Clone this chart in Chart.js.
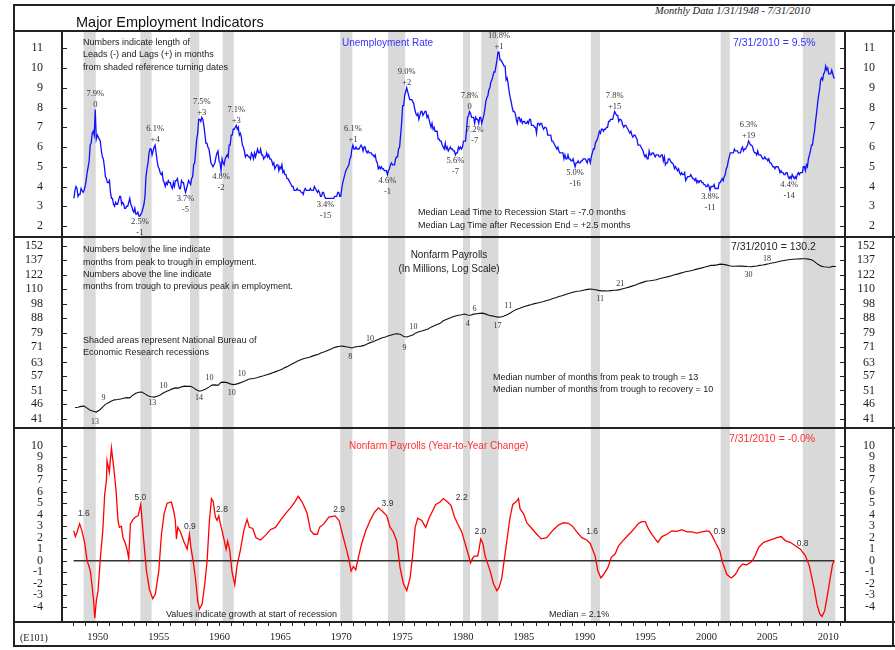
<!DOCTYPE html>
<html lang="en">
<head>
<meta charset="utf-8">
<title>Major Employment Indicators</title>
<script src="https://cdn.jsdelivr.net/npm/chart.js@4.4.1/dist/chart.umd.min.js"></script>
<style>
  html, body { margin: 0; background: #fff; }
  #page { position: relative; width: 895px; height: 650px; overflow: hidden; }
  #page canvas { position: absolute; left: 0; }
  .rule { position: absolute; background: #222; }
  .t { position: absolute; white-space: nowrap; color: #222;
       font: 9px/12px "Liberation Sans", Arial, sans-serif; }
  .big { font-size: 10.5px; }
  .blue { color: #3535ff; }
  .red { color: #ff3030; }
</style>
</head>
<body>
<div id="page">
  <canvas id="urChart" width="895" height="206" style="top:31px"></canvas>
  <canvas id="payChart" width="895" height="191" style="top:237px"></canvas>
  <canvas id="yoyChart" width="895" height="222" style="top:428px"></canvas>

  <!-- frame and panel separators -->
  <div class="rule" style="left:13px;top:4px;width:882px;height:2px"></div>
  <div class="rule" style="left:13px;top:645px;width:882px;height:2px"></div>
  <div class="rule" style="left:13px;top:4px;width:2px;height:643px"></div>
  <div class="rule" style="left:892px;top:4px;width:2px;height:643px"></div>
  <div class="rule" style="left:13px;top:30px;width:882px;height:2px"></div>
  <div class="rule" style="left:13px;top:236px;width:882px;height:2px"></div>
  <div class="rule" style="left:13px;top:427px;width:882px;height:2px"></div>
  <div class="rule" style="left:13px;top:621px;width:882px;height:2px"></div>
  <div class="rule" style="left:61px;top:31px;width:2px;height:591px"></div>
  <div class="rule" style="left:844px;top:31px;width:2px;height:591px"></div>

  <!-- heading -->
  <div class="t" style="left:76px;top:13px;font-size:14.5px;line-height:18px;color:#111">Major Employment Indicators</div>
  <div class="t" style="left:655px;top:5px;font:italic 10.5px/12px 'Liberation Serif', serif">Monthly Data 1/31/1948 - 7/31/2010</div>

  <!-- unemployment panel notes -->
  <div class="t" style="left:83px;top:36px">Numbers indicate length of</div>
  <div class="t" style="left:83px;top:48px">Leads (-) and Lags (+) in months</div>
  <div class="t" style="left:83px;top:61px">from shaded reference turning dates</div>
  <div class="t blue" style="left:342px;top:37px;font-size:10px">Unemployment Rate</div>
  <div class="t blue big" style="left:733px;top:36px">7/31/2010 = 9.5%</div>
  <div class="t" style="left:418px;top:206px">Median Lead Time to Recession Start = -7.0 months</div>
  <div class="t" style="left:418px;top:219px">Median Lag Time after Recession End = +2.5 months</div>

  <!-- payroll panel notes -->
  <div class="t" style="left:83px;top:243px">Numbers below the line indicate</div>
  <div class="t" style="left:83px;top:256px">months from peak to trough in employment.</div>
  <div class="t" style="left:83px;top:268px">Numbers above the line indicate</div>
  <div class="t" style="left:83px;top:280px">months from trough to previous peak in employment.</div>
  <div class="t" style="left:349px;top:249px;width:200px;text-align:center;font-size:10px">Nonfarm Payrolls</div>
  <div class="t" style="left:349px;top:263px;width:200px;text-align:center;font-size:10px">(In Millions, Log Scale)</div>
  <div class="t" style="left:83px;top:334px">Shaded areas represent National Bureau of</div>
  <div class="t" style="left:83px;top:346px">Economic Research recessions</div>
  <div class="t big" style="left:731px;top:240px">7/31/2010 = 130.2</div>
  <div class="t" style="left:493px;top:371px">Median number of months from peak to trough = 13</div>
  <div class="t" style="left:493px;top:383px">Median number of months from trough to recovery = 10</div>

  <!-- year-to-year panel notes -->
  <div class="t red" style="left:349px;top:440px;font-size:10px">Nonfarm Payrolls (Year-to-Year Change)</div>
  <div class="t red big" style="left:729px;top:432px">7/31/2010 = -0.0%</div>
  <div class="t" style="left:166px;top:608px">Values indicate growth at start of recession</div>
  <div class="t" style="left:549px;top:608px">Median = 2.1%</div>
  <div class="t" style="left:20px;top:632px;font:10px/12px 'Liberation Serif', serif">(E101)</div>
</div>

<script>
// ---- data ----
const START_YEAR = 1948;

// unemployment rate, monthly Jan 1948 - Jul 2010 (%)
const UNRATE = [
  3.4, 3.8, 4.0, 3.9, 3.5, 3.6, 3.6, 3.9, 3.8, 3.7, 3.8, 4.0,   // 1948
  4.3, 4.7, 5.0, 5.3, 6.1, 6.2, 6.7, 6.8, 6.6, 7.9, 6.4, 6.6,   // 1949
  6.5, 6.4, 6.3, 5.8, 5.5, 5.4, 5.0, 4.5, 4.4, 4.2, 4.2, 4.3,   // 1950
  3.7, 3.4, 3.4, 3.1, 3.0, 3.2, 3.1, 3.1, 3.3, 3.5, 3.5, 3.1,   // 1951
  3.2, 3.1, 2.9, 2.9, 3.0, 3.0, 3.2, 3.4, 3.1, 3.0, 2.8, 2.7,   // 1952
  2.9, 2.6, 2.6, 2.7, 2.5, 2.5, 2.6, 2.7, 2.9, 3.1, 3.5, 4.5,   // 1953
  4.9, 5.2, 5.7, 5.9, 5.9, 5.6, 5.8, 6.0, 6.1, 5.7, 5.3, 5.0,   // 1954
  4.9, 4.7, 4.6, 4.7, 4.3, 4.2, 4.0, 4.2, 4.1, 4.3, 4.2, 4.2,   // 1955
  4.0, 3.9, 4.2, 4.0, 4.3, 4.3, 4.4, 4.1, 3.9, 3.9, 4.3, 4.2,   // 1956
  4.2, 3.9, 3.7, 3.9, 4.1, 4.3, 4.2, 4.1, 4.4, 4.5, 5.1, 5.2,   // 1957
  5.8, 6.4, 6.7, 7.4, 7.4, 7.3, 7.5, 7.4, 7.1, 6.7, 6.2, 6.2,   // 1958
  6.0, 5.9, 5.6, 5.2, 5.1, 5.0, 5.1, 5.2, 5.5, 5.7, 5.8, 5.3,   // 1959
  5.2, 4.8, 5.4, 5.2, 5.1, 5.4, 5.5, 5.6, 5.5, 6.1, 6.1, 6.6,   // 1960
  6.6, 6.9, 6.9, 7.0, 7.1, 6.9, 7.0, 6.6, 6.7, 6.5, 6.1, 6.0,   // 1961
  5.8, 5.5, 5.6, 5.6, 5.5, 5.5, 5.4, 5.7, 5.6, 5.4, 5.7, 5.5,   // 1962
  5.7, 5.9, 5.7, 5.7, 5.9, 5.6, 5.6, 5.4, 5.5, 5.5, 5.7, 5.5,   // 1963
  5.6, 5.4, 5.4, 5.3, 5.1, 5.2, 4.9, 5.0, 5.1, 5.1, 4.8, 5.0,   // 1964
  4.9, 5.1, 4.7, 4.8, 4.6, 4.6, 4.4, 4.4, 4.3, 4.2, 4.1, 4.0,   // 1965
  4.0, 3.8, 3.8, 3.8, 3.9, 3.8, 3.8, 3.8, 3.7, 3.7, 3.6, 3.8,   // 1966
  3.9, 3.8, 3.8, 3.8, 3.8, 3.9, 3.8, 3.8, 3.8, 4.0, 3.9, 3.8,   // 1967
  3.7, 3.8, 3.7, 3.5, 3.5, 3.7, 3.7, 3.5, 3.4, 3.4, 3.4, 3.4,   // 1968
  3.4, 3.4, 3.4, 3.4, 3.4, 3.5, 3.5, 3.5, 3.7, 3.7, 3.5, 3.5,   // 1969
  3.9, 4.2, 4.4, 4.6, 4.8, 4.9, 5.0, 5.1, 5.4, 5.5, 5.9, 6.1,   // 1970
  5.9, 5.9, 6.0, 5.9, 5.9, 5.9, 6.0, 6.1, 6.0, 5.8, 6.0, 6.0,   // 1971
  5.8, 5.7, 5.8, 5.7, 5.7, 5.7, 5.6, 5.6, 5.5, 5.6, 5.3, 5.2,   // 1972
  4.9, 5.0, 4.9, 5.0, 4.9, 4.9, 4.8, 4.8, 4.8, 4.6, 4.8, 4.9,   // 1973
  5.1, 5.2, 5.1, 5.1, 5.1, 5.4, 5.5, 5.5, 5.9, 6.0, 6.6, 7.2,   // 1974
  8.1, 8.1, 8.6, 8.8, 9.0, 8.8, 8.6, 8.4, 8.4, 8.4, 8.3, 8.2,   // 1975
  7.9, 7.7, 7.6, 7.7, 7.4, 7.6, 7.8, 7.8, 7.6, 7.7, 7.8, 7.8,   // 1976
  7.5, 7.6, 7.4, 7.2, 7.0, 7.2, 6.9, 7.0, 6.8, 6.8, 6.8, 6.4,   // 1977
  6.4, 6.3, 6.3, 6.1, 6.0, 5.9, 6.2, 5.9, 6.0, 5.8, 5.9, 6.0,   // 1978
  5.9, 5.9, 5.8, 5.8, 5.6, 5.7, 5.7, 6.0, 5.9, 6.0, 5.9, 6.0,   // 1979
  6.3, 6.3, 6.3, 6.9, 7.5, 7.6, 7.8, 7.7, 7.5, 7.5, 7.5, 7.2,   // 1980
  7.5, 7.4, 7.4, 7.2, 7.5, 7.5, 7.2, 7.4, 7.6, 7.9, 8.3, 8.5,   // 1981
  8.6, 8.9, 9.0, 9.3, 9.4, 9.6, 9.8, 9.8, 10.1, 10.4, 10.8, 10.8, // 1982
  10.4, 10.4, 10.3, 10.2, 10.1, 10.1, 9.4, 9.5, 9.2, 8.8, 8.5, 8.3, // 1983
  8.0, 7.8, 7.8, 7.7, 7.4, 7.2, 7.5, 7.5, 7.3, 7.4, 7.2, 7.3,   // 1984
  7.3, 7.2, 7.2, 7.3, 7.2, 7.4, 7.4, 7.1, 7.1, 7.1, 7.0, 7.0,   // 1985
  6.7, 7.2, 7.2, 7.1, 7.2, 7.2, 7.0, 6.9, 7.0, 7.0, 6.9, 6.6,   // 1986
  6.6, 6.6, 6.6, 6.3, 6.3, 6.2, 6.1, 6.0, 5.9, 6.0, 5.8, 5.7,   // 1987
  5.7, 5.7, 5.7, 5.4, 5.6, 5.4, 5.4, 5.6, 5.4, 5.4, 5.3, 5.3,   // 1988
  5.4, 5.2, 5.0, 5.2, 5.2, 5.3, 5.2, 5.2, 5.3, 5.3, 5.4, 5.4,   // 1989
  5.4, 5.3, 5.2, 5.4, 5.4, 5.2, 5.5, 5.7, 5.9, 5.9, 6.2, 6.3,   // 1990
  6.4, 6.6, 6.8, 6.7, 6.9, 6.9, 6.8, 6.9, 6.9, 7.0, 7.0, 7.3,   // 1991
  7.3, 7.4, 7.4, 7.4, 7.6, 7.8, 7.7, 7.6, 7.6, 7.3, 7.4, 7.4,   // 1992
  7.3, 7.1, 7.0, 7.1, 7.1, 7.0, 6.9, 6.8, 6.7, 6.8, 6.6, 6.5,   // 1993
  6.6, 6.6, 6.5, 6.4, 6.1, 6.1, 6.1, 6.0, 5.9, 5.8, 5.6, 5.5,   // 1994
  5.6, 5.4, 5.4, 5.8, 5.6, 5.6, 5.7, 5.7, 5.6, 5.5, 5.6, 5.6,   // 1995
  5.6, 5.5, 5.5, 5.6, 5.6, 5.3, 5.5, 5.1, 5.2, 5.2, 5.4, 5.4,   // 1996
  5.3, 5.2, 5.2, 5.1, 4.9, 5.0, 4.9, 4.8, 4.9, 4.7, 4.6, 4.7,   // 1997
  4.6, 4.6, 4.7, 4.3, 4.4, 4.5, 4.5, 4.5, 4.6, 4.5, 4.4, 4.4,   // 1998
  4.3, 4.4, 4.2, 4.3, 4.2, 4.3, 4.3, 4.2, 4.2, 4.1, 4.1, 4.0,   // 1999
  4.0, 4.1, 4.0, 3.8, 4.0, 4.0, 4.0, 4.1, 3.9, 3.9, 3.9, 3.9,   // 2000
  4.2, 4.2, 4.3, 4.4, 4.3, 4.5, 4.6, 4.9, 5.0, 5.3, 5.5, 5.7,   // 2001
  5.7, 5.7, 5.7, 5.9, 5.8, 5.8, 5.8, 5.7, 5.7, 5.7, 5.9, 6.0,   // 2002
  5.8, 5.9, 5.9, 6.0, 6.1, 6.3, 6.2, 6.1, 6.1, 6.0, 5.8, 5.7,   // 2003
  5.7, 5.6, 5.8, 5.6, 5.6, 5.6, 5.5, 5.4, 5.4, 5.5, 5.4, 5.4,   // 2004
  5.3, 5.4, 5.2, 5.2, 5.1, 5.0, 5.0, 4.9, 5.0, 5.0, 5.0, 4.9,   // 2005
  4.7, 4.8, 4.7, 4.7, 4.6, 4.6, 4.7, 4.7, 4.5, 4.4, 4.5, 4.4,   // 2006
  4.6, 4.5, 4.4, 4.5, 4.4, 4.6, 4.7, 4.6, 4.7, 4.7, 4.7, 5.0,   // 2007
  5.0, 4.8, 5.1, 5.0, 5.4, 5.6, 5.8, 6.1, 6.1, 6.5, 6.8, 7.3,   // 2008
  7.7, 8.2, 8.6, 8.9, 9.4, 9.5, 9.4, 9.7, 9.8, 10.1, 9.9, 10.0, // 2009
  9.7, 9.7, 9.7, 9.9, 9.7, 9.5, 9.5                           // 2010
];

// nonfarm payrolls, millions, one value per quarter (Feb, May, Aug, Nov)
const PAYROLLS = [
  44.8, 44.9, 45.2, 45.3,   // 1948
  44.6, 43.9, 43.6, 43.3,   // 1949
  43.9, 44.9, 45.9, 46.5,   // 1950
  47.1, 47.5, 47.6, 47.8,   // 1951
  48.1, 48.3, 48.2, 49.2,   // 1952
  49.9, 50.3, 50.4, 49.7,   // 1953
  49.0, 48.6, 48.5, 48.8,   // 1954
  49.3, 50.0, 50.6, 51.1,   // 1955
  51.6, 52.0, 51.9, 52.4,   // 1956
  52.7, 52.6, 52.6, 52.0,   // 1957
  51.2, 50.7, 51.1, 51.6,   // 1958
  52.3, 53.1, 53.2, 53.0,   // 1959
  54.2, 54.3, 54.1, 53.6,   // 1960
  53.3, 53.5, 53.9, 54.4,   // 1961
  54.9, 55.5, 55.7, 55.9,   // 1962
  56.2, 56.7, 57.0, 57.4,   // 1963
  57.8, 58.3, 58.8, 59.3,   // 1964
  59.9, 60.6, 61.2, 62.0,   // 1965
  62.8, 63.6, 64.2, 64.8,   // 1966
  65.2, 65.5, 66.1, 66.6,   // 1967
  67.0, 67.8, 68.3, 69.0,   // 1968
  69.6, 70.4, 70.9, 71.2,   // 1969
  71.3, 71.0, 70.7, 70.3,   // 1970
  70.8, 71.1, 71.3, 71.7,   // 1971
  72.5, 73.2, 73.7, 74.5,   // 1972
  75.3, 76.0, 76.4, 77.1,   // 1973
  77.6, 78.1, 78.3, 77.9,   // 1974
  76.7, 76.4, 77.0, 77.6,   // 1975
  78.8, 79.5, 79.9, 80.5,   // 1976
  81.1, 82.3, 83.1, 84.0,   // 1977
  84.7, 86.4, 87.2, 88.0,   // 1978
  88.8, 89.5, 90.1, 90.4,   // 1979
  90.9, 90.2, 90.0, 90.8,   // 1980
  91.1, 91.3, 91.5, 90.8,   // 1981
  90.0, 89.6, 89.2, 88.8,   // 1982
  88.9, 89.5, 90.4, 91.6,   // 1983
  92.9, 94.1, 94.8, 95.6,   // 1984
  96.4, 97.0, 97.6, 98.3,   // 1985
  98.8, 99.3, 99.9, 100.6,  // 1986
  101.3, 102.2, 102.8, 103.8, // 1987
  104.4, 105.2, 106.0, 106.8, // 1988
  107.4, 107.9, 108.2, 108.8, // 1989
  109.3, 109.7, 109.6, 109.2, // 1990
  108.7, 108.3, 108.4, 108.2, // 1991
  108.5, 108.8, 108.9, 109.3, // 1992
  110.0, 110.7, 111.4, 112.2, // 1993
  112.9, 114.0, 115.0, 115.9, // 1994
  116.6, 116.9, 117.3, 117.8, // 1995
  118.6, 119.3, 120.0, 120.6, // 1996
  121.4, 122.3, 122.9, 123.8, // 1997
  124.6, 125.3, 125.9, 126.6, // 1998
  127.4, 128.1, 128.8, 129.6, // 1999
  130.5, 131.3, 131.3, 131.8, // 2000
  132.5, 132.3, 131.8, 130.9, // 2001
  130.4, 130.4, 130.5, 130.5, // 2002
  130.3, 130.1, 130.0, 130.3, // 2003
  130.6, 131.3, 131.6, 132.3, // 2004
  132.9, 133.6, 134.2, 134.9, // 2005
  135.7, 136.2, 136.7, 137.2, // 2006
  137.5, 137.8, 137.9, 138.1, // 2007
  138.0, 137.6, 137.0, 135.1, // 2008
  132.6, 130.8, 130.0, 129.7, // 2009
  129.5, 130.3, 130.2         // 2010
];

// nonfarm payrolls, year-to-year change (%), [year, value]
const YOY_CHANGE = [
  [1948.02, 2.6], [1948.16, 2.1], [1948.30, 2.5], [1948.51, 3.2], [1948.70, 2.6], [1948.93, 1.5],
  [1949.12, 0.0], [1949.25, -0.4], [1949.39, -0.9], [1949.53, -2.2], [1949.66, -3.5], [1949.75, -5.0],
  [1949.88, -3.5], [1950.02, -2.6], [1950.21, 0.2], [1950.41, 2.6], [1950.57, 5.8], [1950.71, 7.0],
  [1950.76, 8.7], [1950.95, 7.7], [1951.12, 9.8], [1951.31, 8.1], [1951.50, 6.1], [1951.66, 3.5],
  [1951.77, 2.9], [1951.94, 3.0], [1952.07, 2.0], [1952.27, 1.5], [1952.40, 1.0], [1952.54, 0.2],
  [1952.68, 3.2], [1952.90, 3.6], [1953.09, 3.8], [1953.31, 3.9], [1953.53, 4.9], [1953.78, 1.7],
  [1954.00, -0.9], [1954.24, -2.5], [1954.51, -3.3], [1954.73, -2.9], [1955.01, -0.9], [1955.23, 2.3],
  [1955.45, 4.1], [1955.69, 5.0], [1956.05, 5.1], [1956.24, 4.3], [1956.37, 3.5], [1956.46, 1.9],
  [1956.57, 2.9], [1956.79, 2.5], [1957.06, 1.7], [1957.34, 1.0], [1957.53, 2.3], [1957.64, 1.2],
  [1957.83, 0.0], [1958.02, -1.5], [1958.21, -3.5], [1958.35, -4.2], [1958.57, -3.8], [1958.79, -2.0],
  [1958.98, 0.0], [1959.17, 3.5], [1959.34, 5.4], [1959.47, 5.2], [1959.66, 3.8], [1959.80, 3.5],
  [1959.94, 3.9], [1960.07, 3.2], [1960.21, 2.6], [1960.40, 1.7], [1960.54, 1.0], [1960.67, 1.7],
  [1960.84, 0.9], [1961.03, -1.0], [1961.25, -2.1], [1961.44, -0.4], [1961.71, 0.9], [1961.99, 2.6],
  [1962.26, 3.6], [1962.45, 2.9], [1962.73, 2.8], [1963.00, 2.0], [1963.36, 1.8], [1963.77, 2.2],
  [1964.18, 2.7], [1964.59, 2.9], [1965.00, 3.5], [1965.42, 4.1], [1965.83, 4.6], [1966.24, 5.2],
  [1966.46, 5.6], [1966.79, 5.1], [1967.20, 4.1], [1967.48, 2.6], [1967.75, 2.3], [1968.03, 2.3],
  [1968.22, 2.9], [1968.57, 3.2], [1968.98, 3.8], [1969.49, 3.9], [1969.82, 3.5], [1970.10, 2.3],
  [1970.37, 1.2], [1970.59, 0.3], [1970.81, -0.9], [1971.00, -0.5], [1971.19, -0.8], [1971.41, 0.3],
  [1971.68, 1.5], [1972.01, 2.6], [1972.37, 3.5], [1972.72, 4.2], [1973.05, 4.6], [1973.38, 4.3],
  [1973.74, 3.9], [1974.01, 2.9], [1974.28, 2.5], [1974.56, 1.7], [1974.83, -0.6], [1975.11, -2.0],
  [1975.38, -2.6], [1975.65, -1.5], [1975.85, 0.3], [1976.07, 2.9], [1976.28, 3.7], [1976.61, 3.5],
  [1976.94, 2.9], [1977.21, 3.7], [1977.49, 4.3], [1977.76, 4.9], [1978.12, 5.1], [1978.39, 5.4],
  [1978.75, 5.1], [1979.02, 4.8], [1979.30, 3.8], [1979.57, 3.2], [1979.90, 2.5], [1980.12, 1.7],
  [1980.31, 1.0], [1980.50, 0.3], [1980.62, -0.2], [1980.78, 0.2], [1980.94, 0.4], [1981.21, 0.4],
  [1981.32, 1.0], [1981.46, 1.9], [1981.63, 1.5], [1981.82, 0.4], [1982.04, -0.3], [1982.26, -1.0],
  [1982.50, -2.0], [1982.78, -2.6], [1982.97, -2.3], [1983.19, -1.5], [1983.38, 0.0], [1983.60, 1.7],
  [1983.87, 3.8], [1984.09, 4.9], [1984.34, 5.1], [1984.56, 5.4], [1984.69, 4.5], [1984.97, 4.1],
  [1985.24, 3.3], [1985.65, 2.8], [1986.06, 2.3], [1986.42, 1.9], [1986.88, 2.0], [1987.43, 2.7],
  [1987.84, 3.1], [1988.25, 3.3], [1988.66, 3.25], [1988.99, 3.0], [1989.35, 2.5], [1989.76, 2.0],
  [1990.17, 1.8], [1990.45, 1.5], [1990.86, 0.4], [1991.08, -0.9], [1991.33, -1.5], [1991.55, -1.2],
  [1991.90, -0.6], [1992.18, 0.3], [1992.50, 0.6], [1992.78, 1.3], [1993.11, 1.7], [1993.46, 2.1],
  [1993.82, 2.5], [1994.15, 2.9], [1994.42, 3.25], [1994.70, 3.4], [1994.97, 3.4], [1995.24, 2.75],
  [1995.52, 2.3], [1995.79, 1.9], [1996.01, 1.6], [1996.34, 2.1], [1996.75, 2.3], [1997.16, 2.6],
  [1997.57, 2.55], [1997.98, 2.7], [1998.39, 2.5], [1998.80, 2.5], [1999.22, 2.4], [1999.63, 2.5],
  [2000.04, 2.6], [2000.23, 2.55], [2000.45, 2.2], [2000.78, 1.5], [2001.08, 0.9], [2001.32, -0.15],
  [2001.68, -1.2], [2002.04, -1.5], [2002.37, -1.2], [2002.69, -0.6], [2002.97, -0.3], [2003.32, -0.35],
  [2003.74, -0.05], [2004.01, 0.45], [2004.28, 1.15], [2004.69, 1.6], [2005.10, 1.75], [2005.51, 1.9],
  [2005.79, 2.0], [2006.14, 2.1], [2006.47, 1.75], [2006.88, 1.6], [2007.30, 1.3], [2007.71, 1.0],
  [2008.12, 0.45], [2008.45, -0.45], [2008.66, -1.5], [2008.88, -2.6], [2009.08, -3.8], [2009.30, -4.6],
  [2009.49, -4.85], [2009.71, -4.35], [2009.95, -2.9], [2010.17, -1.5], [2010.36, -0.3], [2010.50, 0.0]
];

// NBER recessions (peak month, trough month); last one shaded to end of data
const RECESSIONS = [
  ['1948-11', '1949-10'], ['1953-07', '1954-05'], ['1957-08', '1958-04'], ['1960-04', '1961-02'],
  ['1969-12', '1970-11'], ['1973-11', '1975-03'], ['1980-01', '1980-07'], ['1981-07', '1982-11'],
  ['1990-07', '1991-03'], ['2001-03', '2001-11'], ['2007-12', '2010-07']
];

// unemployment turning points: month, lead/lag text, label side
const UR_TURNS = [
  ['1949-10', '0', 'up'], ['1953-06', '-1', 'down'], ['1954-09', '+4', 'up'], ['1957-03', '-5', 'down'],
  ['1958-07', '+3', 'up'], ['1960-02', '-2', 'down'], ['1961-05', '+3', 'up'], ['1968-09', '-15', 'down'],
  ['1970-12', '+1', 'up'], ['1973-10', '-1', 'down'], ['1975-05', '+2', 'up'], ['1979-05', '-7', 'down'],
  ['1980-07', '0', 'up'], ['1980-12', '-7', 'down'], ['1982-12', '+1', 'up'], ['1989-03', '-16', 'down'],
  ['1992-06', '+15', 'up'], ['2000-04', '-11', 'down'], ['2003-06', '+19', 'up'], ['2006-10', '-14', 'down']
];

// month counts on the payroll line: [year, level (millions), text]
const PAY_COUNTS = [
  [1949.78, 40.3, '13'], [1954.48, 46.3, '13'], [1958.32, 48.1, '14'], [1961.00, 49.9, '10'],
  [1970.73, 65.8, '8'], [1975.19, 70.1, '9'], [1980.40, 84.1, '4'], [1982.83, 83.2, '17'],
  [1991.27, 101.8, '11'], [2003.46, 122.1, '30'],
  [1950.46, 48.3, '9'], [1955.39, 52.9, '10'], [1959.17, 56.2, '10'], [1961.83, 57.7, '10'],
  [1972.37, 75.2, '10'], [1975.93, 82.2, '10'], [1980.94, 94.6, '6'], [1983.73, 96.8, '11'],
  [1992.91, 113.8, '21'], [2004.97, 137.5, '18']
];

// growth at start of each recession: [year, level (%), text]
const YOY_NOTES = [
  [1948.85, 4.1, '1.6'], [1953.50, 5.5, '5.0'], [1957.56, 3.0, '0.9'], [1960.20, 4.4, '2.8'],
  [1969.82, 4.4, '2.9'], [1973.80, 5.0, '3.9'], [1979.90, 5.5, '2.2'], [1981.43, 2.5, '2.0'],
  [1990.60, 2.5, '1.6'], [2001.07, 2.5, '0.9'], [2007.90, 1.5, '0.8']
];

// axis ticks
const UR_TICKS = [2, 3, 4, 5, 6, 7, 8, 9, 10, 11];
const PAY_TICKS = [41, 46, 51, 57, 63, 71, 79, 88, 98, 110, 122, 137, 152];
const YOY_TICKS = [-4, -3, -2, -1, 0, 1, 2, 3, 4, 5, 6, 7, 8, 9, 10];
const YEAR_LABELS = [1950, 1955, 1960, 1965, 1970, 1975, 1980, 1985, 1990, 1995, 2000, 2005, 2010];

// ---- layout ----
const SERIF = '"Liberation Serif", "Times New Roman", serif';
const SANS = '"Liberation Sans", Arial, sans-serif';
const X_MIN = 1947.06, X_MAX = 2011.38;
const YEAR_TICKS = Array.from({ length: 64 }, (_, i) => 1948 + i);

Chart.defaults.font.family = SANS;

function monthIndex(ym) {
  const [y, m] = ym.split('-').map(Number);
  return (y - START_YEAR) * 12 + m - 1;
}
function monthStart(ym) { return START_YEAR + monthIndex(ym) / 12; }
function monthEnd(ym) { return START_YEAR + (monthIndex(ym) + 1) / 12; }
function monthX(i) { return START_YEAR + (i + 0.5) / 12; }
function quarterX(i) { return START_YEAR + (i + 0.5) / 4; }

const recessionShade = {
  id: 'recessionShade',
  beforeDatasetsDraw(chart) {
    const { ctx, chartArea: a, scales: { x } } = chart;
    ctx.save();
    ctx.fillStyle = '#d9d9d9';
    RECESSIONS.forEach(([from, to]) => {
      const x0 = x.getPixelForValue(monthStart(from));
      const x1 = x.getPixelForValue(monthEnd(to));
      ctx.fillRect(x0, a.top, x1 - x0, a.bottom - a.top);
    });
    ctx.restore();
  }
};

// short tick marks just inside both axis lines
const innerTicks = {
  id: 'innerTicks',
  afterDraw(chart) {
    const { ctx, chartArea: a } = chart;
    const s = chart.scales.y;
    ctx.save();
    ctx.strokeStyle = '#222';
    ctx.lineWidth = 1;
    s.ticks.forEach(t => {
      const py = Math.round(s.getPixelForValue(t.value)) + 0.5;
      ctx.beginPath();
      ctx.moveTo(a.left, py); ctx.lineTo(a.left + 5, py);
      ctx.moveTo(a.right - 5, py); ctx.lineTo(a.right, py);
      ctx.stroke();
    });
    ctx.restore();
  }
};

function textMarks(id, items, font) {
  return {
    id,
    afterDatasetsDraw(chart) {
      const { ctx, scales: { x, y } } = chart;
      ctx.save();
      ctx.font = font;
      ctx.fillStyle = '#333';
      ctx.textAlign = 'center';
      ctx.textBaseline = 'middle';
      items.forEach(([yr, v, txt]) => ctx.fillText(txt, x.getPixelForValue(yr), y.getPixelForValue(v)));
      ctx.restore();
    }
  };
}

const turnLabels = {
  id: 'turnLabels',
  afterDatasetsDraw(chart) {
    const { ctx, scales: { x, y } } = chart;
    ctx.save();
    ctx.font = '8.5px ' + SERIF;
    ctx.fillStyle = '#333';
    ctx.textAlign = 'center';
    ctx.textBaseline = 'middle';
    UR_TURNS.forEach(([ym, lag, side]) => {
      const i = monthIndex(ym);
      const px = x.getPixelForValue(monthX(i));
      const py = y.getPixelForValue(UNRATE[i]);
      const off = side === 'up' ? [-16, -5] : [6, 17];
      ctx.fillText(UNRATE[i].toFixed(1) + '%', px, py + off[0]);
      ctx.fillText(lag, px, py + off[1]);
    });
    ctx.restore();
  }
};

function yScales(p) {
  const common = {
    type: p.type, min: p.min, max: p.max, bounds: 'data',
    grid: { display: false, drawTicks: false },
    border: { display: false },
    afterBuildTicks: s => { s.ticks = p.ticks.map(v => ({ value: v })); }
  };
  const tickFont = { color: '#222', font: { family: SERIF, size: 12 }, autoSkip: false,
    callback: (v, i) => String(p.ticks[i]) };
  return {
    y: { ...common, position: 'left',
      afterFit: s => { s.width = 48; s.paddingTop = 0; s.paddingBottom = 0; },
      ticks: { ...tickFont, crossAlign: 'near', padding: 19 } },
    yR: { ...common, position: 'right',
      afterFit: s => { s.width = 30; s.paddingTop = 0; s.paddingBottom = 0; },
      ticks: { ...tickFont, crossAlign: 'far', padding: 0 } }
  };
}

const hiddenX = { type: 'linear', min: X_MIN, max: X_MAX, bounds: 'data', display: false };

const yearAxis = {
  type: 'linear', min: X_MIN, max: X_MAX, bounds: 'data', position: 'bottom',
  grid: { drawOnChartArea: false, drawTicks: true, tickLength: 4, color: '#222' },
  border: { display: false },
  afterBuildTicks: s => { s.ticks = YEAR_TICKS.map(v => ({ value: v })); },
  afterFit: s => { s.height = 28; s.paddingLeft = 0; s.paddingRight = 0; },
  ticks: {
    autoSkip: false, maxRotation: 0, padding: 5, color: '#222',
    font: { family: SERIF, size: 10.5 },
    callback: v => (YEAR_LABELS.includes(v) ? String(v) : '')
  }
};

function baseOptions(scales) {
  return {
    responsive: false,
    animation: false,
    events: [],
    layout: { padding: { left: 14, right: 20, top: 0, bottom: 0 } },
    plugins: { legend: { display: false }, tooltip: { enabled: false } },
    elements: { point: { radius: 0 }, line: { tension: 0 } },
    scales
  };
}

// unemployment rate
new Chart(document.getElementById('urChart'), {
  type: 'line',
  data: {
    datasets: [{
      data: UNRATE.map((v, i) => ({ x: monthX(i), y: v })),
      borderColor: '#1010ff', borderWidth: 1.3
    }]
  },
  options: baseOptions({
    x: hiddenX,
    ...yScales({ type: 'linear', min: 1.443, max: 11.876, ticks: UR_TICKS })
  }),
  plugins: [recessionShade, innerTicks, turnLabels]
});

// payrolls, log scale
new Chart(document.getElementById('payChart'), {
  type: 'line',
  data: {
    datasets: [{
      data: PAYROLLS.map((v, i) => ({ x: quarterX(i), y: v })),
      borderColor: '#111', borderWidth: 1.1
    }]
  },
  options: baseOptions({
    x: hiddenX,
    ...yScales({ type: 'logarithmic', min: 38.39, max: 162.7, ticks: PAY_TICKS })
  }),
  plugins: [recessionShade, innerTicks, textMarks('payCounts', PAY_COUNTS, '8px ' + SERIF)]
});

// payrolls year-to-year change
const yoyFirst = YOY_CHANGE[0][0];
const yoyLast = YOY_CHANGE[YOY_CHANGE.length - 1][0];
new Chart(document.getElementById('yoyChart'), {
  type: 'line',
  data: {
    datasets: [{
      data: YOY_CHANGE.map(([x, y]) => ({ x, y })),
      borderColor: '#ff0000', borderWidth: 1.3, order: 1
    }, {
      data: [{ x: yoyFirst, y: 0 }, { x: yoyLast, y: 0 }],
      borderColor: '#333', borderWidth: 1.5, order: 2
    }]
  },
  options: baseOptions({
    x: yearAxis,
    ...yScales({ type: 'linear', min: -5.33, max: 11.54, ticks: YOY_TICKS })
  }),
  plugins: [recessionShade, innerTicks, textMarks('yoyNotes', YOY_NOTES, '8.5px ' + SANS)]
});
</script>
</body>
</html>
